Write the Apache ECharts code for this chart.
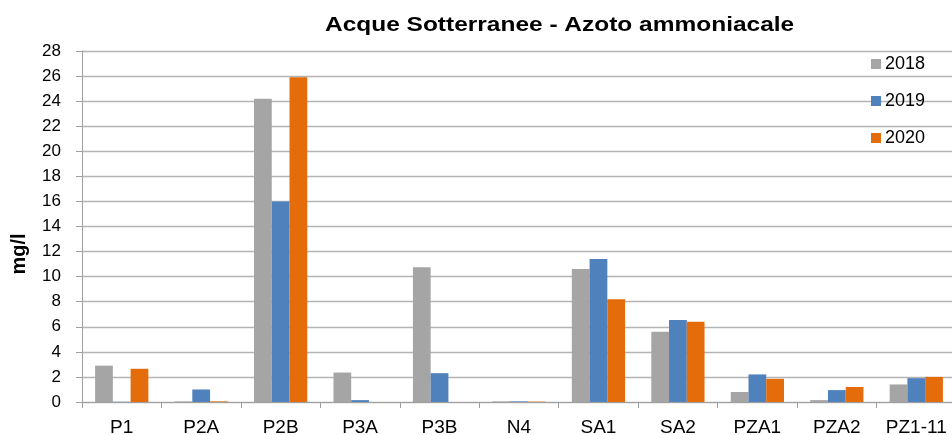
<!DOCTYPE html>
<html><head><meta charset="utf-8">
<script src="https://cdn.jsdelivr.net/npm/echarts@6/dist/echarts.min.js"></script>
<style>html,body{margin:0;padding:0;background:#fff}#c{width:952px;height:435px}</style>
</head><body><div id="c"></div>
<script>
const categories = ['P1','P2A','P2B','P3A','P3B','N4','SA1','SA2','PZA1','PZA2','PZ1-11'];
const s2018 = [2.9, 0.05, 24.2, 2.35, 10.75, 0.05, 10.6, 5.6, 0.8, 0.15, 1.4];
const s2019 = [0.02, 1.0, 16.0, 0.15, 2.3, 0.05, 11.4, 6.55, 2.2, 0.95, 1.9];
const s2020 = [2.65, 0.05, 25.9, 0, 0, 0.03, 8.2, 6.4, 1.85, 1.2, 2.0];
const seriesNames = ['2018','2019','2020'];
const titleText = 'Acque Sotterranee - Azoto ammoniacale';
const yAxisTitle = 'mg/l';
const colors = ['#a5a5a5','#4f81bd','#e46c0a'];
const font = 'Liberation Sans, Arial, sans-serif';
const chart = echarts.init(document.getElementById('c'));
const data = [s2018, s2019, s2020];
chart.setOption({
  animation: false,
  graphic: [
    {type: 'text', left: 325, top: 16, scaleX: 1.255,
      style: {text: titleText, font: 'bold 19.5px Liberation Sans, Arial, sans-serif', fill: '#000'}},
    {type: 'text', x: 19, y: 254, rotation: Math.PI / 2,
      style: {text: yAxisTitle, font: 'bold 20px Liberation Sans, Arial, sans-serif', fill: '#000',
        align: 'center', verticalAlign: 'middle'}}
  ],
  legend: {orient: 'vertical', left: 866, top: 50, itemWidth: 10, itemHeight: 10, itemGap: 19,
    icon: 'rect', textStyle: {fontFamily: font, fontSize: 18, color: '#000', padding: [0,0,0,-1]},
    data: seriesNames},
  grid: {left: 82, right: -4, top: 51, bottom: 33, containLabel: false, outerBoundsMode: 'none'},
  xAxis: {type: 'category', data: categories,
    axisLine: {lineStyle: {color: '#a0a0a0'}},
    axisTick: {show: true, length: 6, lineStyle: {color: '#a0a0a0'}},
    axisLabel: {fontFamily: font, fontSize: 19, color: '#000', margin: 16, interval: 0, hideOverlap: false}},
  yAxis: {type: 'value', min: 0, max: 28, interval: 2,
    axisLine: {show: true, lineStyle: {color: '#a0a0a0'}},
    axisTick: {show: true, length: 6, lineStyle: {color: '#a0a0a0'}},
    splitLine: {lineStyle: {color: '#b4b4b4', width: 1.3}},
    axisLabel: {fontFamily: font, fontSize: 17, color: '#000', margin: 21}},
  series: data.map((d, i) => ({
    name: seriesNames[i], type: 'bar', data: d, barGap: '0%', barCategoryGap: '33%',
    itemStyle: {color: colors[i]}
  }))
});
</script></body></html>
